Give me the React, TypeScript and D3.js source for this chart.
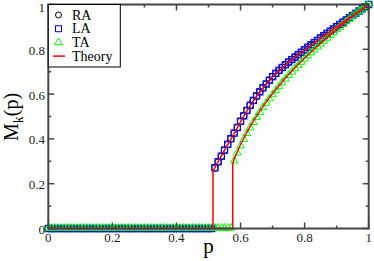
import React from 'react';
import * as d3 from 'd3';

// p grid of the simulation points
const pGrid = [
  0, 0.01, 0.02, 0.03, 0.04, 0.05, 0.06, 0.07, 0.08, 0.09,
  0.1, 0.11, 0.12, 0.13, 0.14, 0.15, 0.16, 0.17, 0.18, 0.19,
  0.2, 0.21, 0.22, 0.23, 0.24, 0.25, 0.26, 0.27, 0.28, 0.29,
  0.3, 0.31, 0.32, 0.33, 0.34, 0.35, 0.36, 0.37, 0.38, 0.39,
  0.4, 0.41, 0.42, 0.43, 0.44, 0.45, 0.46, 0.47, 0.48, 0.49,
  0.5, 0.51, 0.52, 0.53, 0.54, 0.55, 0.56, 0.57, 0.58, 0.59,
  0.6, 0.61, 0.62, 0.63, 0.64, 0.65, 0.66, 0.67, 0.68, 0.69,
  0.7, 0.71, 0.72, 0.73, 0.74, 0.75, 0.76, 0.77, 0.78, 0.79,
  0.8, 0.81, 0.82, 0.83, 0.84, 0.85, 0.86, 0.87, 0.88, 0.89,
  0.9, 0.91, 0.92, 0.93, 0.94, 0.95, 0.96, 0.97, 0.98, 0.99,
  1.0,
];

const raValues = [
  0, 0, 0, 0, 0, 0, 0, 0, 0, 0,
  0, 0, 0, 0, 0, 0, 0, 0, 0, 0,
  0, 0, 0, 0, 0, 0, 0, 0, 0, 0,
  0, 0, 0, 0, 0, 0, 0, 0, 0, 0,
  0, 0, 0, 0, 0, 0, 0, 0, 0, 0,
  0, 0, 0.270, 0.297, 0.322, 0.350, 0.375, 0.400, 0.425, 0.450,
  0.478, 0.503, 0.527, 0.550, 0.571, 0.591, 0.610, 0.628, 0.645, 0.662,
  0.678, 0.692, 0.706, 0.719, 0.731, 0.743, 0.754, 0.765, 0.776, 0.787,
  0.798, 0.809, 0.819, 0.830, 0.840, 0.851, 0.861, 0.871, 0.881, 0.891,
  0.901, 0.911, 0.921, 0.931, 0.941, 0.951, 0.961, 0.971, 0.981, 0.990,
  1.0,
];

const laValues = [
  0, 0, 0, 0, 0, 0, 0, 0, 0, 0,
  0, 0, 0, 0, 0, 0, 0, 0, 0, 0,
  0, 0, 0, 0, 0, 0, 0, 0, 0, 0,
  0, 0, 0, 0, 0, 0, 0, 0, 0, 0,
  0, 0, 0, 0, 0, 0, 0, 0, 0, 0,
  0, 0, 0.271, 0.298, 0.323, 0.350, 0.376, 0.401, 0.426, 0.451,
  0.479, 0.503, 0.527, 0.550, 0.572, 0.592, 0.610, 0.628, 0.645, 0.662,
  0.678, 0.693, 0.706, 0.719, 0.731, 0.743, 0.754, 0.765, 0.776, 0.787,
  0.798, 0.809, 0.820, 0.830, 0.840, 0.851, 0.861, 0.871, 0.881, 0.891,
  0.901, 0.911, 0.921, 0.931, 0.941, 0.951, 0.961, 0.971, 0.981, 0.990,
  1.0,
];

const taValues = [
  0, 0, 0, 0, 0, 0, 0, 0, 0, 0,
  0, 0, 0, 0, 0, 0, 0, 0, 0, 0,
  0, 0, 0, 0, 0, 0, 0, 0, 0, 0,
  0, 0, 0, 0, 0, 0, 0, 0, 0, 0,
  0, 0, 0, 0, 0, 0, 0, 0, 0, 0,
  0, 0, 0, 0, 0, 0, 0, 0, 0.300, 0.336,
  0.367, 0.396, 0.423, 0.448, 0.472, 0.495, 0.517, 0.538, 0.558, 0.577,
  0.596, 0.614, 0.632, 0.649, 0.666, 0.682, 0.697, 0.712, 0.727, 0.741,
  0.755, 0.769, 0.783, 0.796, 0.809, 0.822, 0.835, 0.848, 0.861, 0.873,
  0.886, 0.898, 0.910, 0.922, 0.934, 0.946, 0.957, 0.968, 0.979, 0.990,
  1.0,
];

// theory curves (RA/LA and TA)
const theoryRaP = [0, 0.514, 0.514, 0.52, 0.54, 0.56, 0.58, 0.60, 0.62, 0.64, 0.66, 0.68, 0.70, 0.74, 0.78, 0.82, 0.86, 0.90, 0.95, 1.0];
const theoryRaM = [0, 0, 0.255, 0.273, 0.324, 0.374, 0.424, 0.476, 0.525, 0.570, 0.608, 0.643, 0.676, 0.730, 0.775, 0.818, 0.860, 0.900, 0.950, 1.0];
const theoryTaP = [0, 0.5755, 0.5755, 0.58, 0.60, 0.62, 0.64, 0.66, 0.68, 0.70, 0.74, 0.78, 0.82, 0.86, 0.90, 0.95, 1.0];
const theoryTaM = [0, 0, 0.290, 0.310, 0.375, 0.430, 0.479, 0.524, 0.565, 0.603, 0.672, 0.733, 0.788, 0.840, 0.890, 0.948, 1.0];

const xMajor = [0, 0.2, 0.4, 0.6, 0.8, 1];
const xMinor = [0.1, 0.3, 0.5, 0.7, 0.9];
const yMajor = [0, 0.2, 0.4, 0.6, 0.8, 1];
const yMinor = [0.1, 0.3, 0.5, 0.7, 0.9];

const legendItems = ['RA', 'LA', 'TA', 'Theory'];

const W = 374, H = 261;
const left = 48.3, right = 368.7, top = 4.5, bottom = 228.5;
const font = 'Liberation Serif, Tinos, DejaVu Serif, serif';

export default function App() {
  const x = d3.scaleLinear().domain([0, 1]).range([left, right]);
  const y = d3.scaleLinear().domain([0, 1]).range([bottom, top]);

  const line = d3.line<number>()
    .x((d, i) => x(theoryRaP[i]))
    .y((d) => y(d));
  const lineTa = d3.line<number>()
    .x((d, i) => x(theoryTaP[i]))
    .y((d) => y(d));

  const tri = d3.symbol().type(d3.symbolTriangle).size(26)();

  return (
    <svg width={W} height={H} style={{ position: 'absolute', left: 0, top: 0, background: '#fff', fontFamily: font }}>
      <rect x={0} y={0} width={W} height={H} fill="#fff" />

      {/* RA circles */}
      {pGrid.map((p, i) => (
        <circle key={'ra' + i} cx={x(p)} cy={y(raValues[i])} r={3.2} fill="none" stroke="#000" strokeWidth={1} />
      ))}
      {/* LA squares */}
      {pGrid.map((p, i) => (
        <rect key={'la' + i} x={x(p) - 3.2} y={y(laValues[i]) - 3.2} width={6.4} height={6.4} fill="none" stroke="#0000ff" strokeWidth={1} />
      ))}
      {/* TA triangles */}
      {pGrid.map((p, i) => (
        <path key={'ta' + i} d={tri as string} transform={`translate(${x(p)},${y(taValues[i]) - 0.5})`} fill="none" stroke="#00ff00" strokeWidth={1} />
      ))}

      {/* theory */}
      <path d={line(theoryRaM) as string} fill="none" stroke="#ff0000" strokeWidth={1.5} />
      <path d={lineTa(theoryTaM) as string} fill="none" stroke="#ff0000" strokeWidth={1.5} />

      {/* frame */}
      <rect x={left} y={top} width={right - left} height={bottom - top} fill="none" stroke="#444" strokeWidth={2} />

      {/* ticks */}
      {xMajor.map((t) => (
        <g key={'xm' + t}>
          <line x1={x(t)} x2={x(t)} y1={bottom} y2={bottom - 6} stroke="#444" strokeWidth={1.5} />
          <line x1={x(t)} x2={x(t)} y1={top} y2={top + 6} stroke="#444" strokeWidth={1.5} />
          <text x={x(t)} y={242} textAnchor="middle" style={{ fontFamily: font }} fontSize={13} fill="#222">{String(t)}</text>
        </g>
      ))}
      {xMinor.map((t) => (
        <g key={'xn' + t}>
          <line x1={x(t)} x2={x(t)} y1={bottom} y2={bottom - 3} stroke="#444" strokeWidth={1.5} />
          <line x1={x(t)} x2={x(t)} y1={top} y2={top + 3} stroke="#444" strokeWidth={1.5} />
        </g>
      ))}
      {yMajor.map((t) => (
        <g key={'ym' + t}>
          <line x1={left} x2={left + 6} y1={y(t)} y2={y(t)} stroke="#444" strokeWidth={1.5} />
          <line x1={right} x2={right - 6} y1={y(t)} y2={y(t)} stroke="#444" strokeWidth={1.5} />
          <text x={45} y={Math.max(y(t) + 5.5, 11.5)} textAnchor="end" style={{ fontFamily: font }} fontSize={13} fill="#222">{String(t)}</text>
        </g>
      ))}
      {yMinor.map((t) => (
        <g key={'yn' + t}>
          <line x1={left} x2={left + 3} y1={y(t)} y2={y(t)} stroke="#444" strokeWidth={1.5} />
          <line x1={right} x2={right - 3} y1={y(t)} y2={y(t)} stroke="#444" strokeWidth={1.5} />
        </g>
      ))}

      {/* axis titles */}
      <text x={208.5} y={253} textAnchor="middle" style={{ fontFamily: font }} fontSize={21} fill="#000">p</text>
      <text transform="translate(18,117) rotate(-90)" textAnchor="middle" style={{ fontFamily: font }} fontSize={20} fill="#000">
        M<tspan fontSize={14} dy={5}>k</tspan><tspan dy={-5}>(p)</tspan>
      </text>

      {/* legend */}
      <rect x={left} y={top} width={72} height={62.5} fill="#fff" stroke="#000" strokeWidth={1} />
      {legendItems.map((name, i) => {
        const ly = 15 + i * 13.7;
        const mx = 58.5;
        let marker;
        if (name === 'RA') marker = <circle cx={mx} cy={ly} r={3} fill="none" stroke="#000" strokeWidth={1} />;
        else if (name === 'LA') marker = <rect x={mx - 3} y={ly - 3} width={6} height={6} fill="none" stroke="#0000ff" strokeWidth={1} />;
        else if (name === 'TA') marker = <path d={tri as string} transform={`translate(${mx},${ly})`} fill="none" stroke="#00ff00" strokeWidth={1} />;
        else marker = <line x1={53} x2={65} y1={ly} y2={ly} stroke="#ff0000" strokeWidth={1.5} />;
        return (
          <g key={name}>
            {marker}
            <text x={72} y={ly + 4.6} style={{ fontFamily: font }} fontSize={14} fill="#000">{name}</text>
          </g>
        );
      })}
    </svg>
  );
}
